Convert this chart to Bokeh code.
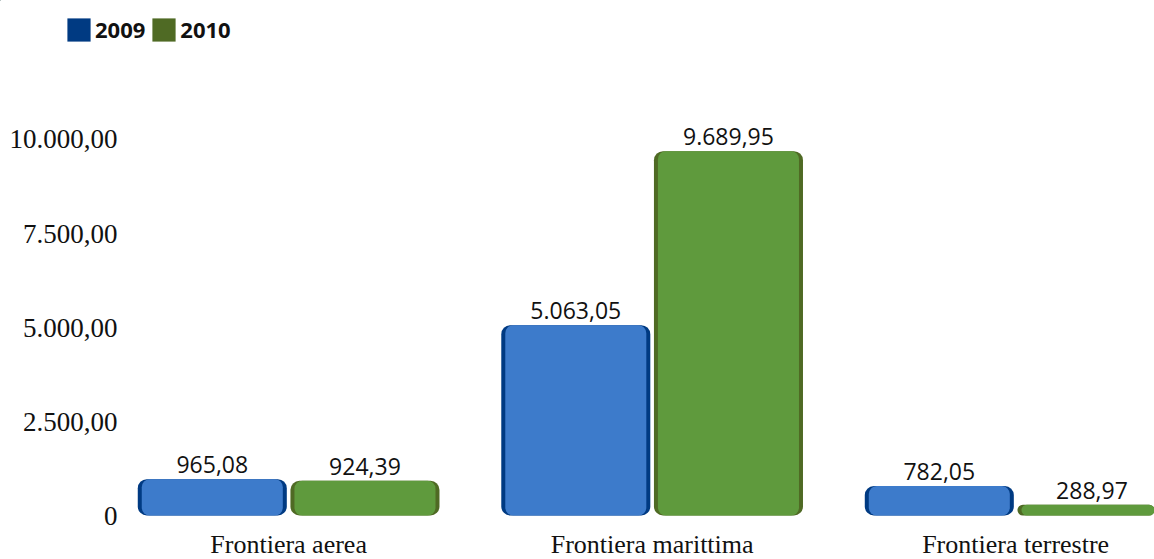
from bokeh.plotting import figure
from bokeh.layouts import column
from bokeh.models import ColumnDataSource, Range1d, FixedTicker, Legend, LegendItem
from bokeh.core.properties import value
from bokeh.embed import file_html
from bokeh.resources import INLINE

categories = ["Frontiera aerea", "Frontiera marittima", "Frontiera terrestre"]
years = ["2009", "2010"]
values_2009 = [965.08, 5063.05, 782.05]
values_2010 = [924.39, 9689.95, 288.97]
tick_values = [0, 2500, 5000, 7500, 10000]
tick_labels = ["0", "2.500,00", "5.000,00", "7.500,00", "10.000,00"]

legend_colors = ["#003a82", "#4f6a24"]
face_colors = ["#3d7bcb", "#5f9a3d"]


def it_fmt(v):
    s = f"{v:,.2f}"
    return s.replace(",", "X").replace(".", ",").replace("X", ".")


group_x = list(range(len(categories)))
offset = 0.21
bar_w = 0.41

sources = []
for i, vals in enumerate([values_2009, values_2010]):
    xs = [g + (-offset if i == 0 else offset) for g in group_x]
    sources.append(ColumnDataSource(dict(x=xs, top=vals, lab=[it_fmt(v) for v in vals])))

# ---- legend strip (its bars fall outside its ranges; only the legend shows) ----
leg = figure(width=1154, height=60, x_range=Range1d(100, 101), y_range=Range1d(-3, -2),
             output_backend="svg", toolbar_location=None,
             x_axis_location=None, y_axis_location=None,
             min_border_left=0, min_border_right=0, min_border_top=0, min_border_bottom=0)
leg.frame_align = False
leg.outline_line_color = None
leg.grid.visible = False
leg_items = []
for yr, col, src in zip(years, legend_colors, sources):
    r = leg.vbar(x="x", top="top", bottom=0, width=bar_w, source=src,
                 fill_color=col, line_color=None)
    leg_items.append(LegendItem(label=yr, renderers=[r]))
legend = Legend(items=leg_items, location=(64, 16), orientation="horizontal",
                glyph_width=29, glyph_height=29, padding=0, margin=0, spacing=4,
                label_standoff=2, background_fill_alpha=0, border_line_color=None,
                label_text_font="Open Sans", label_text_font_style="bold",
                label_text_font_size="22px", label_text_color="#111111",
                label_height=29)
leg.add_layout(legend)

# ---- main chart ----
p = figure(width=1154, height=499,
           x_range=Range1d(-0.457, 2.382), y_range=Range1d(-1170, 12101),
           output_backend="svg", toolbar_location=None, x_axis_location=None,
           min_border_left=122, min_border_right=0, min_border_top=0, min_border_bottom=0)
p.frame_align = False
p.outline_line_color = None
p.grid.visible = False

for i, src in enumerate(sources):
    p.vbar(x="x", top="top", bottom=0, width=bar_w, source=src,
           fill_color=legend_colors[i], line_color=None, border_radius=9)
    p.vbar(x="x", top="top", bottom=0, width=bar_w - 0.022, source=src,
           fill_color=face_colors[i], line_color=None, border_radius=8)
    p.text(x="x", y="top", text="lab", source=src, text_align="center",
           text_baseline="bottom", y_offset=-6, text_font=value("Open Sans"),
           text_font_size="23px", text_color="#111111")

cat_src = ColumnDataSource(dict(x=group_x, y=[-1165] * len(categories), t=categories))
p.text(x="x", y="y", text="t", source=cat_src, text_align="center",
       text_baseline="bottom", text_font=value("Liberation Serif"),
       text_font_size="26px", text_color="#111111")

ax = p.yaxis[0]
ax.ticker = FixedTicker(ticks=tick_values)
ax.major_label_overrides = {v: l for v, l in zip(tick_values, tick_labels)}
ax.axis_line_color = None
ax.major_tick_line_color = None
ax.minor_tick_line_color = None
ax.major_tick_out = 0
ax.major_tick_in = 0
ax.major_label_standoff = 5
ax.major_label_text_font = "Liberation Serif"
ax.major_label_text_font_size = "27px"
ax.major_label_text_color = "#111111"

layout = column(leg, p, spacing=0)
open("out.html", "w").write(file_html(layout, INLINE))
